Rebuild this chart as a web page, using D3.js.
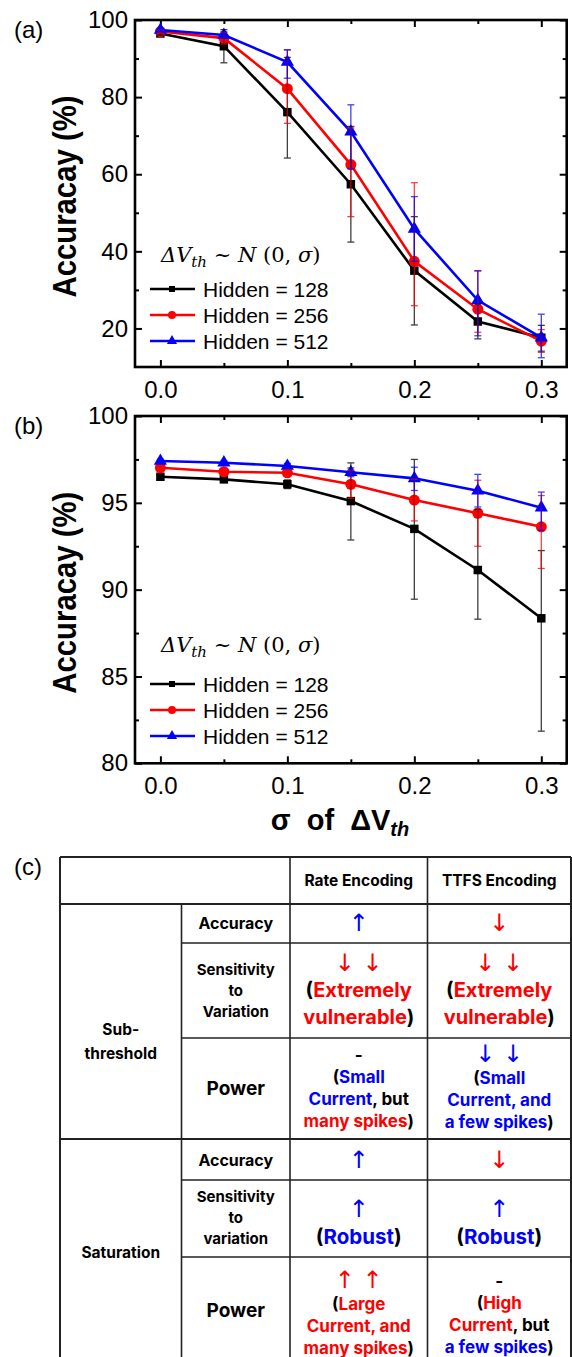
<!DOCTYPE html>
<html>
<head>
<meta charset="utf-8">
<script src="https://cdn.jsdelivr.net/npm/d3@7"></script>
<style>
  body { margin: 0; background: #fff; }
  svg { display: block; }
</style>
</head>
<body>
<div class="canvas"></div>
<script>
// ---- data ----
var sigma = [0, 0.05, 0.1, 0.15, 0.2, 0.25, 0.3];
var hiddenSizes = [128, 256, 512];

// (a) wide sigma range
var accA128 = [96.5, 93.2, 76.1, 57.4, 35.0, 21.8, 17.6];
var accA256 = [97.0, 95.3, 82.2, 62.5, 37.4, 25.0, 16.7];
var accA512 = [97.4, 96.1, 89.1, 71.0, 45.8, 27.3, 17.6];
var errUpA128 = [0.4, 4.3, 14.2, 15.0, 14.0, 4.5, 3.2];
var errDnA128 = [0.4, 4.3, 11.9, 15.0, 14.1, 4.5, 3.5];
var errUpA256 = [0.4, 1.5, 10.0, 9.5, 20.4, 10.0, 3.0];
var errDnA256 = [0.4, 1.5, 9.0, 13.5, 11.5, 6.0, 2.9];
var errUpA512 = [0.3, 0.8, 3.2, 7.0, 8.4, 7.6, 6.1];
var errDnA512 = [0.3, 0.8, 4.2, 9.6, 8.4, 9.2, 5.2];

// (b) zoomed accuracy range
var accB128 = [96.5, 96.35, 96.07, 95.1, 93.5, 91.13, 88.35];
var accB256 = [97.02, 96.79, 96.73, 96.07, 95.16, 94.4, 93.62];
var accB512 = [97.41, 97.31, 97.12, 96.76, 96.41, 95.7, 94.72];
var errUpB128 = [0.1, 0.1, 0.25, 2.2, 4.0, 3.5, 3.9];
var errDnB128 = [0.1, 0.1, 0.25, 2.24, 4.05, 2.83, 6.5];
var errUpB256 = [0.1, 0.1, 0.2, 0.8, 1.2, 1.9, 1.8];
var errDnB256 = [0.1, 0.1, 0.2, 0.8, 1.2, 1.9, 2.4];
var errUpB512 = [0.1, 0.1, 0.15, 0.25, 0.64, 0.94, 0.9];
var errDnB512 = [0.1, 0.1, 0.15, 0.25, 0.7, 0.94, 1.3];

var xMajorTicks = [0, 0.1, 0.2, 0.3];
var xMinorTicks = [0.05, 0.15, 0.25];
var yMajorA = [20, 40, 60, 80, 100], yMinorA = [30, 50, 70, 90];
var yMajorB = [80, 85, 90, 95, 100], yMinorB = [82.5, 87.5, 92.5, 97.5];

// (c) table text
var tableHeader = ["Rate Encoding", "TTFS Encoding"];
var regimeLabels = [["Sub-", "threshold"], ["Saturation"]];
var metricLabels = [
  [16, ["Accuracy"]], [15, ["Sensitivity", "to", "Variation"]], [19, ["Power"]],
  [16, ["Accuracy"]], [15, ["Sensitivity", "to", "variation"]], [19, ["Power"]]
];
// each cell: list of lines [fontSize, [[text, colour], ...]]
var B = "blue", R = "red", K = "black";
var rateCells = [
  [[24, [["↑", B]]]],
  [[24, [["↓ ↓", R]]], [20, [["(", K], ["Extremely", R]]], [20, [["vulnerable", R], [")", K]]]],
  [[17, [["-", K]]], [17, [["(", K], ["Small", B]]], [17, [["Current", B], [", but", K]]], [17, [["many spikes", R], [")", K]]]],
  [[24, [["↑", B]]]],
  [[24, [["↑", B]]], [20.5, [["(", K], ["Robust", B], [")", K]]]],
  [[24, [["↑ ↑", R]]], [17, [["(", K], ["Large", R]]], [17, [["Current, and", R]]], [17, [["many spikes", R], [")", K]]]]
];
var ttfsCells = [
  [[24, [["↓", R]]]],
  [[24, [["↓ ↓", R]]], [20, [["(", K], ["Extremely", R]]], [20, [["vulnerable", R], [")", K]]]],
  [[24, [["↓ ↓", B]]], [17, [["(", K], ["Small", B]]], [17, [["Current, and", B]]], [17, [["a few spikes", B], [")", K]]]],
  [[24, [["↓", R]]]],
  [[24, [["↑", B]]], [20.5, [["(", K], ["Robust", B], [")", K]]]],
  [[17, [["-", K]]], [17, [["(", K], ["High", R]]], [17, [["Current", R], [", but", K]]], [17, [["a few spikes", B], [")", K]]]]
];

// ---- layout ----
var W = 572, H = 1357;
var plotL = 135, plotR = 566.7;
var seriesColours = ["#000000", "#ff0000", "#0000ff"];
var symbols = [d3.symbolSquare, d3.symbolCircle, d3.symbolTriangle];
var symbolSizes = [72, 95, 75];
var legendSizes = [36, 50, 45];

var svg = d3.select('.canvas').append('svg')
  .attr('width', W).attr('height', H)
  .style('font-family', '"Liberation Sans", Arial, sans-serif');

var x = d3.scaleLinear().domain([-0.02, 0.32]).range([plotL, plotR]);

function drawPanel(cfg) {
  var y = d3.scaleLinear().domain(cfg.yDomain).range([cfg.bottom, cfg.top]);
  var g = svg.append('g');

  // inward ticks on all four sides
  g.append('g').attr('class', 'ax').attr('transform', 'translate(0,' + cfg.bottom + ')')
    .call(d3.axisBottom(x).tickValues(xMajorTicks).tickSize(-7).tickPadding(14).tickFormat(d3.format('.1f')));
  g.append('g').attr('class', 'ax').attr('transform', 'translate(0,' + cfg.bottom + ')')
    .call(d3.axisBottom(x).tickValues(xMinorTicks).tickSize(-4).tickFormat(''));
  g.append('g').attr('class', 'ax').attr('transform', 'translate(0,' + cfg.top + ')')
    .call(d3.axisTop(x).tickValues(xMajorTicks).tickSize(-7).tickFormat(''));
  g.append('g').attr('class', 'ax').attr('transform', 'translate(0,' + cfg.top + ')')
    .call(d3.axisTop(x).tickValues(xMinorTicks).tickSize(-4).tickFormat(''));
  g.append('g').attr('class', 'ax').attr('transform', 'translate(' + plotL + ',0)')
    .call(d3.axisLeft(y).tickValues(cfg.yMajor).tickSize(-7).tickPadding(7).tickFormat(d3.format('d')));
  g.append('g').attr('class', 'ax').attr('transform', 'translate(' + plotL + ',0)')
    .call(d3.axisLeft(y).tickValues(cfg.yMinor).tickSize(-4).tickFormat(''));
  g.append('g').attr('class', 'ax').attr('transform', 'translate(' + plotR + ',0)')
    .call(d3.axisRight(y).tickValues(cfg.yMajor).tickSize(-7).tickFormat(''));
  g.append('g').attr('class', 'ax').attr('transform', 'translate(' + plotR + ',0)')
    .call(d3.axisRight(y).tickValues(cfg.yMinor).tickSize(-4).tickFormat(''));

  g.selectAll('.ax .domain').remove();
  g.selectAll('.ax line').attr('stroke', '#000').attr('stroke-width', 2);
  g.selectAll('.ax text').attr('font-size', 24).attr('fill', '#000')
    .attr('font-family', '"Liberation Sans", Arial, sans-serif');

  g.append('rect')
    .attr('x', plotL).attr('y', cfg.top)
    .attr('width', plotR - plotL).attr('height', cfg.bottom - cfg.top)
    .attr('fill', 'none').attr('stroke', '#000').attr('stroke-width', 2.6);

  var line = d3.line().x(function(d){ return x(d[0]); }).y(function(d){ return y(d[1]); });

  cfg.series.forEach(function(s, i){
    var pts = sigma.map(function(v, j){ return [v, s.acc[j], s.up[j], s.dn[j]]; });
    var col = seriesColours[i];
    g.append('path').datum(pts).attr('d', line)
      .attr('fill', 'none').attr('stroke', col).attr('stroke-width', 2.6);
    g.selectAll('.mk' + i).data(pts).enter().append('path')
      .attr('transform', function(d){ return 'translate(' + x(d[0]) + ',' + y(d[1]) + ')'; })
      .attr('d', d3.symbol().type(symbols[i]).size(symbolSizes[i]))
      .attr('fill', col);
  });

  // error bars on top
  cfg.series.forEach(function(s, i){
    var col = seriesColours[i];
    var eg = g.append('g').attr('stroke', col).attr('stroke-width', 1.3).attr('opacity', 0.75);
    sigma.forEach(function(v, j){
      var cx = x(v), yt = y(s.acc[j] + s.up[j]), yb = y(s.acc[j] - s.dn[j]);
      eg.append('line').attr('x1', cx).attr('x2', cx).attr('y1', yt).attr('y2', yb);
      eg.append('line').attr('x1', cx - 3.5).attr('x2', cx + 3.5).attr('y1', yt).attr('y2', yt);
      eg.append('line').attr('x1', cx - 3.5).attr('x2', cx + 3.5).attr('y1', yb).attr('y2', yb);
    });
  });

  // y title
  svg.append('text')
    .attr('transform', 'translate(76,' + ((cfg.top + cfg.bottom) / 2 + 3) + ') rotate(-90)')
    .attr('text-anchor', 'middle')
    .attr('font-size', 33).attr('font-weight', 'bold')
    .attr('textLength', 202).attr('lengthAdjust', 'spacingAndGlyphs')
    .text('Accuracay (%)');

  // panel tag
  svg.append('text').attr('x', 14).attr('y', cfg.top + 18)
    .attr('font-size', 24).text(cfg.tag);

  // distribution note
  var note = svg.append('text').attr('x', 161).attr('y', cfg.noteY)
    .attr('font-family', '"DejaVu Serif", "Liberation Serif", serif').attr('font-size', 21);
  note.append('tspan').attr('font-style', 'italic').text('ΔV');
  note.append('tspan').attr('font-style', 'italic').attr('font-size', 15).attr('dy', 5).text('th');
  note.append('tspan').attr('dy', -5).text(' ~ ');
  note.append('tspan').attr('font-style', 'italic').text('N');
  note.append('tspan').text(' (0, ');
  note.append('tspan').attr('font-style', 'italic').text('σ');
  note.append('tspan').text(')');

  // legend
  hiddenSizes.forEach(function(h, i){
    var ly = cfg.legendY + i * 26;
    var col = seriesColours[i];
    svg.append('line').attr('x1', 150).attr('x2', 195).attr('y1', ly).attr('y2', ly)
      .attr('stroke', col).attr('stroke-width', 2.4);
    svg.append('path').attr('transform', 'translate(172,' + ly + ')')
      .attr('d', d3.symbol().type(symbols[i]).size(legendSizes[i])).attr('fill', col);
    svg.append('text').attr('x', 203).attr('y', ly + 7.5)
      .attr('font-size', 21).text('Hidden = ' + h);
  });
}

drawPanel({
  tag: '(a)', top: 20, bottom: 367, yDomain: [10, 100],
  yMajor: yMajorA, yMinor: yMinorA, noteY: 262, legendY: 289,
  series: [
    {acc: accA128, up: errUpA128, dn: errDnA128},
    {acc: accA256, up: errUpA256, dn: errDnA256},
    {acc: accA512, up: errUpA512, dn: errDnA512}
  ]
});

drawPanel({
  tag: '(b)', top: 416, bottom: 763.3, yDomain: [80, 100],
  yMajor: yMajorB, yMinor: yMinorB, noteY: 652, legendY: 684,
  series: [
    {acc: accB128, up: errUpB128, dn: errDnB128},
    {acc: accB256, up: errUpB256, dn: errDnB256},
    {acc: accB512, up: errUpB512, dn: errDnB512}
  ]
});

// shared x title
var xt = svg.append('text').attr('x', 340).attr('y', 830)
  .attr('text-anchor', 'middle').attr('font-size', 29).attr('font-weight', 'bold')
  .style('white-space', 'pre');
xt.append('tspan').text('σ  of  ΔV');
xt.append('tspan').attr('font-style', 'italic').attr('font-size', 20).attr('dy', 6).text('th');

// ---- (c) table ----
var colEdges = [60, 181.5, 290, 427.5, 571];
var rowEdges = [857, 904, 943, 1038, 1139, 1180, 1257];
var regimeLabelY = [1041, 1252];
var metricY = [923, 990, 1088, 1160, 1217, 1310];
var cellY = [923, 990, 1088, 1160, 1222, 1314];
var tableFont = 'Inter, "Noto Sans", sans-serif';
var arrowFont = '"DejaVu Sans", sans-serif';
var tcol = {blue: '#0000ff', red: '#ff0000', black: '#000'};

svg.append('text').attr('x', 14).attr('y', 875).attr('font-size', 24).text('(c)');

var tg = svg.append('g').attr('font-family', tableFont).attr('font-weight', 'bold')
  .attr('text-anchor', 'middle');

function stroke(x1, y1, x2, y2, w) {
  tg.append('line').attr('x1', x1).attr('y1', y1).attr('x2', x2).attr('y2', y2)
    .attr('stroke', '#222').attr('stroke-width', w || 1.6);
}

// grid
stroke(colEdges[0], rowEdges[0], colEdges[4], rowEdges[0], 2);
stroke(colEdges[0], rowEdges[1], colEdges[4], rowEdges[1], 2);
stroke(colEdges[0], rowEdges[4], colEdges[4], rowEdges[4], 2);
[2, 3, 5, 6].forEach(function(r){ stroke(colEdges[1], rowEdges[r], colEdges[4], rowEdges[r]); });
stroke(colEdges[0], rowEdges[0], colEdges[0], H, 2);
stroke(colEdges[1], rowEdges[1], colEdges[1], H);
stroke(colEdges[2], rowEdges[0], colEdges[2], H);
stroke(colEdges[3], rowEdges[0], colEdges[3], H);
stroke(colEdges[4], rowEdges[0], colEdges[4], H, 2);

function mid(a, b) { return (a + b) / 2; }

// header
tableHeader.forEach(function(t, i){
  tg.append('text').attr('x', mid(colEdges[2 + i], colEdges[3 + i]))
    .attr('y', mid(rowEdges[0], rowEdges[1])).attr('dominant-baseline', 'central')
    .attr('font-size', 15.5).attr('font-weight', 'bold').text(t);
});

// regime labels
regimeLabels.forEach(function(lines, i){
  lines.forEach(function(t, j){
    tg.append('text').attr('x', mid(colEdges[0], colEdges[1]))
      .attr('y', regimeLabelY[i] + (j - (lines.length - 1) / 2) * 24)
      .attr('dominant-baseline', 'central').attr('font-size', 15.5).text(t);
  });
});

// metric labels
metricLabels.forEach(function(m, r){
  m[1].forEach(function(t, j){
    tg.append('text').attr('x', mid(colEdges[1], colEdges[2]))
      .attr('y', metricY[r] + (j - (m[1].length - 1) / 2) * 21)
      .attr('dominant-baseline', 'central').attr('font-size', m[0]).text(t);
  });
});

function lineH(size) { return size >= 20 ? 27 : 22; }

function drawCell(lines, cx, cy) {
  var offs = [0];
  for (var i = 1; i < lines.length; i++)
    offs.push(offs[i - 1] + (lineH(lines[i - 1][0]) + lineH(lines[i][0])) / 2);
  var y0 = cy - offs[offs.length - 1] / 2;
  lines.forEach(function(l, i){
    var isArrow = /[↑↓]/.test(l[1][0][0]);
    var t = tg.append('text').attr('x', cx).attr('y', y0 + offs[i])
      .attr('dominant-baseline', 'central').attr('font-size', l[0])
      .style('white-space', 'pre');
    if (isArrow) t.attr('font-family', arrowFont).attr('font-weight', 'normal');
    l[1].forEach(function(run){
      t.append('tspan').attr('fill', tcol[run[1]]).text(run[0]);
    });
  });
}

[rateCells, ttfsCells].forEach(function(cells, c){
  cells.forEach(function(lines, r){
    drawCell(lines, mid(colEdges[2 + c], colEdges[3 + c]), cellY[r]);
  });
});
</script>
</body>
</html>
